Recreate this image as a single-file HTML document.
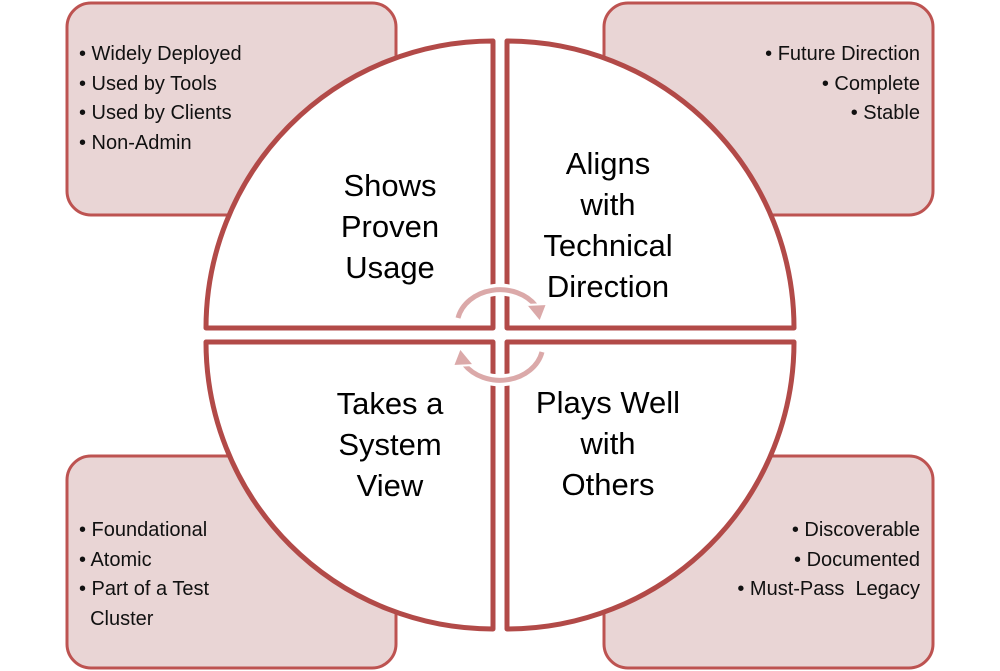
<!DOCTYPE html>
<html><head><style>
body{margin:0;width:1000px;height:671px;background:#fff;overflow:hidden;font-family:"Liberation Sans",sans-serif;}
svg{position:absolute;left:0;top:0}
.t{position:absolute;text-align:center;font-size:31px;line-height:41px;color:#000;width:240px}
.b{position:absolute;font-size:20px;line-height:29.5px;color:#111;white-space:nowrap}
.r{text-align:right}
</style></head><body>
<svg width="1000" height="671">
<g fill="#e9d5d5" stroke="#bd5351" stroke-width="3">
<rect x="67" y="3" width="329" height="212" rx="24"/>
<rect x="604" y="3" width="329" height="212" rx="24"/>
<rect x="67" y="456" width="329" height="212" rx="24"/>
<rect x="604" y="456" width="329" height="212" rx="24"/>
</g>
<g fill="#fff" stroke="#b24a48" stroke-width="5" stroke-linejoin="round">
<path d="M493,328 L206,328 A287,287 0 0 1 493,41 Z"/>
<path d="M507,328 L507,41 A287,287 0 0 1 794,328 Z"/>
<path d="M493,342 L493,629 A287,287 0 0 1 206,342 Z"/>
<path d="M507,342 L794,342 A287,287 0 0 1 507,629 Z"/>
</g>
<g fill="none" stroke-linecap="butt">
<path d="M458,318 A43,36 0 0 1 536,306" stroke="#fff" stroke-width="12"/>
<path d="M458,318 A43,36 0 0 1 536,306" stroke="#dba9a9" stroke-width="5"/>
<path d="M542,352 A43,36 0 0 1 464,364" stroke="#fff" stroke-width="12"/>
<path d="M542,352 A43,36 0 0 1 464,364" stroke="#dba9a9" stroke-width="5"/>
</g>
<polygon points="526,305 547,304 540,322" fill="#dba9a9" stroke="#fff" stroke-width="2"/>
<polygon points="474,365 453,366 460,348" fill="#dba9a9" stroke="#fff" stroke-width="2"/>
</svg>
<div class="t" style="left:270px;top:165px">Shows<br>Proven<br>Usage</div>
<div class="t" style="left:488px;top:143px">Aligns<br>with<br>Technical<br>Direction</div>
<div class="t" style="left:270px;top:383px">Takes a<br>System<br>View</div>
<div class="t" style="left:488px;top:382px">Plays Well<br>with<br>Others</div>
<div class="b" style="left:79px;top:40px">• Widely Deployed<br>• Used by Tools<br>• Used by Clients<br>• Non-Admin</div>
<div class="b r" style="right:80px;top:40px">• Future Direction<br>• Complete<br>• Stable</div>
<div class="b" style="left:79px;top:516px">• Foundational<br>• Atomic<br>• Part of a Test<br>&nbsp;&nbsp;Cluster</div>
<div class="b r" style="right:80px;top:516px">• Discoverable<br>• Documented<br>• Must-Pass&nbsp; Legacy</div>
</body></html>
